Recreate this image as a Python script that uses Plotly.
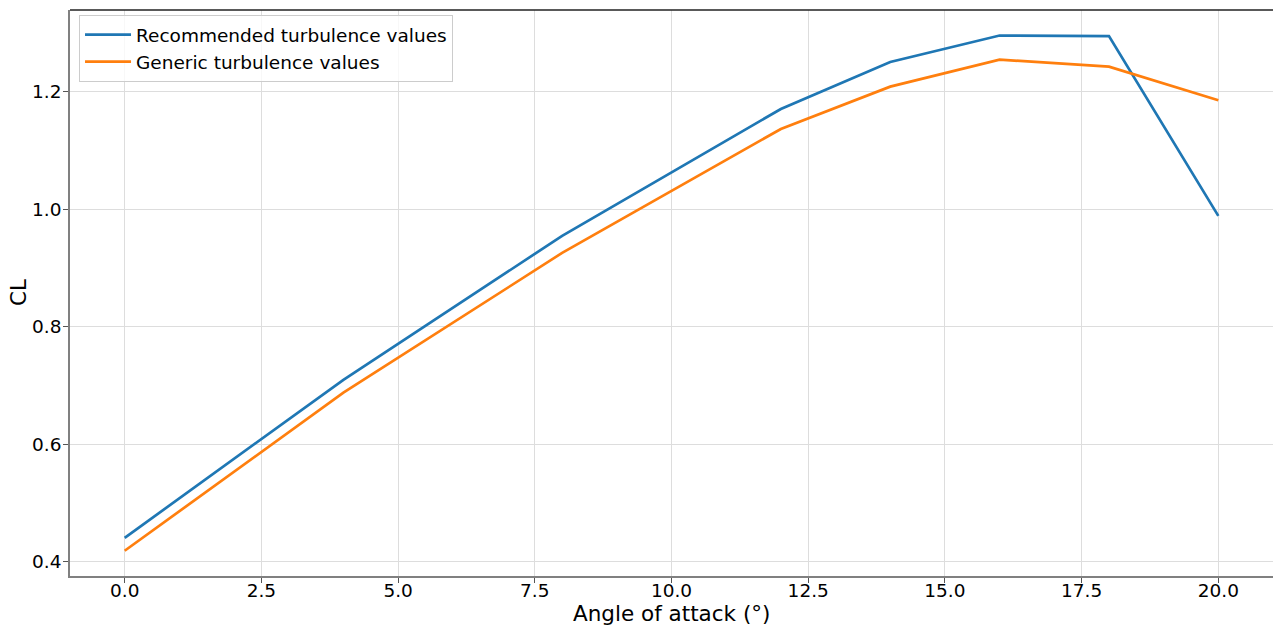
import plotly.graph_objects as go

angles = [0, 4, 8, 12, 14, 16, 18, 20]
cl_recommended = [0.441, 0.710, 0.955, 1.171, 1.251, 1.296, 1.295, 0.989]
cl_generic = [0.419, 0.688, 0.926, 1.137, 1.209, 1.255, 1.243, 1.186]
series_names = ["Recommended turbulence values", "Generic turbulence values"]
x_ticks = [0, 2.5, 5, 7.5, 10, 12.5, 15, 17.5, 20]
y_ticks = [0.4, 0.6, 0.8, 1.0, 1.2]
x_title = "Angle of attack (°)"
y_title = "CL"

FONT = "DejaVu Sans"

fig = go.Figure()
fig.add_trace(go.Scatter(x=angles, y=cl_recommended, mode="lines", name=series_names[0],
                         line=dict(color="#1f77b4", width=2.7)))
fig.add_trace(go.Scatter(x=angles, y=cl_generic, mode="lines", name=series_names[1],
                         line=dict(color="#ff7f0e", width=2.7)))

axis_common = dict(
    showline=True, linecolor="#808080", linewidth=1.6, mirror=False,
    ticks="outside", ticklen=5, tickwidth=1, tickcolor="#555555",
    showgrid=True, gridcolor="#dddddd", gridwidth=1.2, zeroline=False,
    automargin=False,
    tickfont=dict(family=FONT, size=18.5, color="#000000"),
)

fig.update_layout(
    width=1274, height=626,
    margin=dict(l=70, r=1, t=10, b=50),
    paper_bgcolor="white", plot_bgcolor="white",
    font=dict(family=FONT, size=18.5, color="#000000"),
    xaxis=dict(range=[-1.0, 21.0], tickvals=x_ticks, tickformat=".1f",
               ticklabelstandoff=-8, **axis_common),
    yaxis=dict(range=[0.376, 1.3395], tickvals=y_ticks, tickformat=".1f",
               ticklabelstandoff=-2, **axis_common),
    legend=dict(x=0.0075, y=0.991, xanchor="left", yanchor="top",
                bgcolor="rgba(255,255,255,0.8)", bordercolor="#cccccc", borderwidth=1,
                font=dict(family=FONT, size=18.5), tracegroupgap=0, itemwidth=46),
    shapes=[dict(type="line", xref="paper", yref="paper", x0=0, x1=1, y0=1, y1=1,
                 line=dict(color="#222222", width=1.4))],
    annotations=[
        dict(text=x_title, xref="paper", yref="paper", x=0.5, y=0, yshift=-37,
             xanchor="center", yanchor="middle", showarrow=False,
             font=dict(family=FONT, size=21.5, color="#000000")),
        dict(text=y_title, xref="paper", yref="paper", x=0, y=0.5, xshift=-52,
             xanchor="center", yanchor="middle", showarrow=False, textangle=-90,
             font=dict(family=FONT, size=21.5, color="#000000")),
    ],
    showlegend=True,
)

fig.write_html("out.html")
